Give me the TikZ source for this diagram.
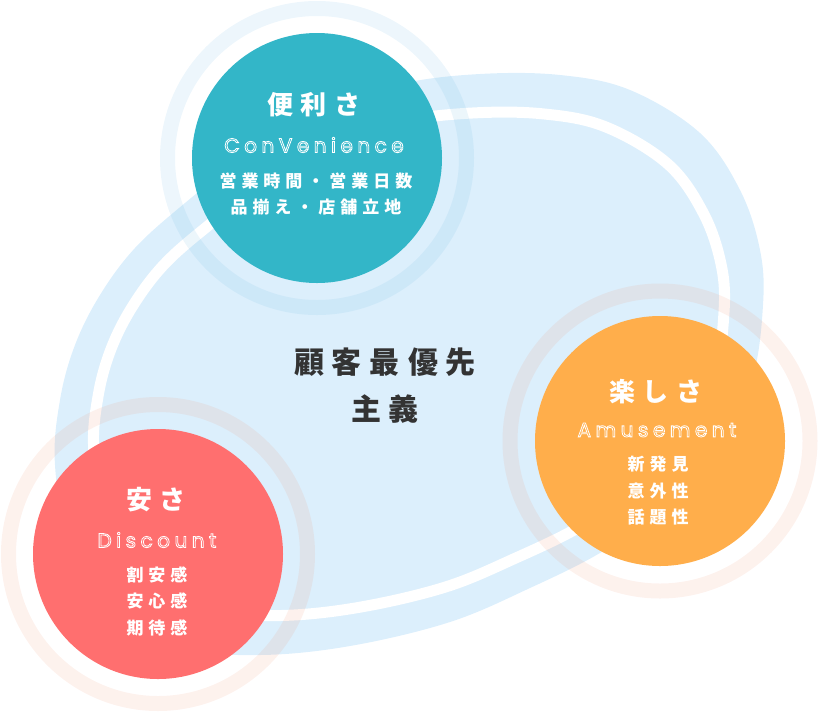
\documentclass[tikz,border=0pt]{standalone}
\usepackage{fontspec}
\newfontfamily\jp{Noto Sans CJK JP}
\newfontfamily\pop{Poppins}
\ExplSyntaxOn
\NewDocumentCommand\trk{mm}{\tl_map_inline:nn{#2}{##1\kern#1}\kern-#1}
\ExplSyntaxOff
\definecolor{blobblue}{HTML}{DCEFFC}
\definecolor{tealc}{HTML}{33B6C8}
\definecolor{orangec}{HTML}{FFAE4B}
\definecolor{redc}{HTML}{FF6F6F}
\definecolor{ringb}{HTML}{5BB0E0}
\definecolor{ringp}{HTML}{F2906E}
\definecolor{darktext}{HTML}{333333}
\newcommand\blobpath{plot[smooth cycle, tension=0.6] coordinates {
 (480,74) (560,75) (630,90) (700,133) (740,190) (760,250) (763,305) (752,380)
 (718,452) (660,512) (600,553) (530,588) (450,622) (350,646) (260,655) (180,648)
 (112,614) (70,550) (55,465) (60,400) (75,345) (100,295) (135,248) (185,203)
 (250,152) (320,110) (400,84)}}
\newcommand\outl[1]{\special{pdf:literal direct 1 Tr 0.8 w 1 G}#1}
\tikzset{
  disc/.style={circle, inner sep=0pt, minimum size=250pt},
  ringblue/.style={draw=ringb, draw opacity=0.11, line width=15pt},
  ringpeach/.style={draw=ringp, draw opacity=0.12, line width=15pt},
  titletext/.style={font=\jp\bfseries\fontsize{26}{30}\selectfont, text=white, inner sep=0pt},
  subtext/.style={font=\pop\fontsize{20}{22}\selectfont, text=white, inner sep=0pt},
  bodytext/.style={font=\jp\bfseries\fontsize{17}{26.5}\selectfont, text=white, align=center, inner sep=0pt},
  centertext/.style={font=\jp\bfseries\fontsize{30}{47}\selectfont, text=darktext, align=center, inner sep=0pt}
}
\begin{document}
\begin{tikzpicture}[x=1pt,y=-1pt]
\useasboundingbox (0,0) rectangle (819,713);
% blob
\fill[blobblue] \blobpath;
\begin{scope}[shift={(408,363)}, xscale=0.89, yscale=0.865, shift={(-408,-363)}]
  \draw[white, line width=11pt] \blobpath;
\end{scope}
% rings
\draw[ringblue] (317,158) circle[radius=149.5pt];
\draw[ringpeach] (660,441) circle[radius=150pt];
\draw[ringpeach] (158,554) circle[radius=149.5pt];
% discs
\node[disc, fill=tealc] (conv) at (317,158) {};
\node[disc, fill=orangec] (amuse) at (660,441) {};
\node[disc, fill=redc] (disc) at (158,554) {};
% convenience
\node[titletext] (convt) at (314,105) {\trk{8pt}{便利さ}};
\node[bodytext] (convb) at (316,194) {\trk{5pt}{営業時間・営業日数}\\\trk{5pt}{品揃え・店舗立地}};
% amusement
\node[titletext] (amuset) at (656,392) {\trk{8pt}{楽しさ}};
\node[bodytext] (amuseb) at (658,491) {\trk{5pt}{新発見}\\\trk{5pt}{意外性}\\\trk{5pt}{話題性}};
% discount
\node[titletext] (disct) at (156,500) {\trk{8pt}{安さ}};
\node[bodytext] (discb) at (157,601) {\trk{5pt}{割安感}\\\trk{5pt}{安心感}\\\trk{5pt}{期待感}};
% center
\node[centertext] (center) at (385,386) {\trk{8pt}{顧客最優先}\\\trk{8pt}{主義}};
% outlined latin words (drawn last)
\node[subtext] (convs) at (314,145) {\outl{\trk{4.5pt}{ConVenience}}};
\node[subtext] (amuses) at (657,430) {\outl{\trk{4.5pt}{Amusement}}};
\node[subtext] (discs) at (157,540) {\outl{\trk{4.5pt}{Discount}}};
\end{tikzpicture}
\end{document}
